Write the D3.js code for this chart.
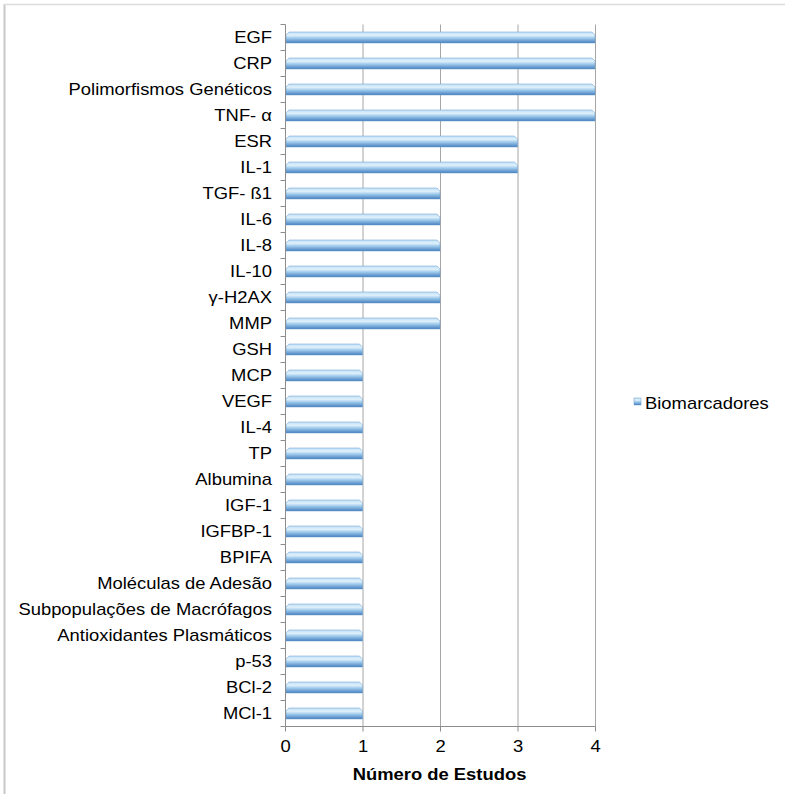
<!DOCTYPE html>
<html>
<head>
<meta charset="utf-8">
<script src="https://cdn.jsdelivr.net/npm/d3@7"></script>
<style>
  body { margin: 0; background: #fff; }
  text { font-family: "Liberation Sans", Arial, sans-serif; fill: #000; }
</style>
</head>
<body>
<svg id="chart" width="785" height="794"></svg>
<script>
// categories top to bottom
const biomarkers = [
  "EGF", "CRP", "Polimorfismos Genéticos", "TNF- α", "ESR", "IL-1",
  "TGF- ß1", "IL-6", "IL-8", "IL-10", "γ-H2AX", "MMP", "GSH", "MCP",
  "VEGF", "IL-4", "TP", "Albumina", "IGF-1", "IGFBP-1", "BPIFA",
  "Moléculas de Adesão", "Subpopulações de Macrófagos",
  "Antioxidantes Plasmáticos", "p-53", "BCl-2", "MCl-1"
];
const studies = [4, 4, 4, 4, 3, 3, 2, 2, 2, 2, 2, 2, 1, 1, 1, 1, 1, 1, 1, 1, 1, 1, 1, 1, 1, 1, 1];
const xTicks = [0, 1, 2, 3, 4];
const seriesName = "Biomarcadores";
const axisTitle = "Número de Estudos";

const svg = d3.select("#chart");
const fs = 16, sx = 1.15; // text in the source is slightly stretched horizontally

// outer frame (left + top edge like the source)
svg.append("line").attr("x1", 4.5).attr("x2", 4.5).attr("y1", 4).attr("y2", 794)
  .attr("stroke", "#c8c8c8").attr("stroke-width", 2);
svg.append("line").attr("x1", 4).attr("x2", 785).attr("y1", 4.5).attr("y2", 4.5)
  .attr("stroke", "#dcdcdc").attr("stroke-width", 1.5);

const pLeft = 285.5, pRight = 595.5, pTop = 24.5, pBottom = 726.5;

const x = d3.scaleLinear().domain([0, 4]).range([pLeft, pRight]);
const band = d3.scaleBand().domain(biomarkers).range([pTop, pBottom]);
const barH = 11;

const defs = svg.append("defs");
const grad = defs.append("linearGradient").attr("id", "barGrad")
  .attr("x1", 0).attr("x2", 0).attr("y1", 0).attr("y2", 1);
grad.append("stop").attr("offset", "0%").attr("stop-color", "#bfdff5");
grad.append("stop").attr("offset", "30%").attr("stop-color", "#dff1fb");
grad.append("stop").attr("offset", "55%").attr("stop-color", "#9fcaec");
grad.append("stop").attr("offset", "100%").attr("stop-color", "#4680bf");

// gridlines
svg.append("g").selectAll("line").data(xTicks.slice(1)).join("line")
  .attr("x1", d => x(d)).attr("x2", d => x(d))
  .attr("y1", pTop).attr("y2", pBottom)
  .attr("stroke", "#a6a6a6").attr("stroke-width", 1);

// bars with a small bevel at the right end
svg.append("g").selectAll("path").data(biomarkers).join("path")
  .attr("d", (d, i) => {
    const x0 = x(0) + 0.5, x1 = x(studies[i]) - 0.5;
    const y0 = band(d) + band.bandwidth() / 2 - barH / 2, y1 = y0 + barH, b = 3;
    return `M${x0},${y0 + b}L${x0 + b},${y0}L${x1 - b},${y0}L${x1},${y0 + b}L${x1},${y1}L${x0},${y1}Z`;
  })
  .attr("fill", "url(#barGrad)")
  .attr("stroke", "#6a9ccf").attr("stroke-width", 0.5);

// helper: horizontally stretched text
function label(g, tx, ty, txt, anchor, bold) {
  g.append("g").attr("transform", `translate(${tx},${ty}) scale(${sx},1)`)
    .append("text").attr("text-anchor", anchor).attr("dy", "0.35em")
    .attr("font-size", fs).attr("font-weight", bold ? "bold" : null).text(txt);
}

// left axis
const yAxis = svg.append("g");
yAxis.append("line").attr("x1", pLeft).attr("x2", pLeft).attr("y1", pTop).attr("y2", pBottom)
  .attr("stroke", "#8c8c8c");
const catEdges = biomarkers.map(d => band(d)).concat([pBottom]);
yAxis.selectAll("line.tick").data(catEdges).join("line").attr("class", "tick")
  .attr("x1", pLeft - 5).attr("x2", pLeft).attr("y1", d => d).attr("y2", d => d)
  .attr("stroke", "#8c8c8c");
biomarkers.forEach(d => label(yAxis, 272, band(d) + band.bandwidth() / 2, d, "end"));

// bottom axis
const xAxis = svg.append("g");
xAxis.append("line").attr("x1", pLeft).attr("x2", pRight).attr("y1", pBottom).attr("y2", pBottom)
  .attr("stroke", "#8c8c8c");
xAxis.selectAll("line.tick").data(xTicks).join("line").attr("class", "tick")
  .attr("x1", d => x(d)).attr("x2", d => x(d)).attr("y1", pBottom).attr("y2", pBottom + 5)
  .attr("stroke", "#8c8c8c");
xTicks.forEach(d => label(xAxis, x(d), 746, d, "middle"));

label(svg, (pLeft + pRight) / 2 - 1, 774, axisTitle, "middle", true);

// legend
const lg = svg.append("g");
lg.append("rect").attr("x", 634).attr("y", 398).attr("width", 7).attr("height", 7)
  .attr("fill", "url(#barGrad)").attr("stroke", "#6a9ccf").attr("stroke-width", 0.5);
label(lg, 645, 403, seriesName, "start");
</script>
</body>
</html>
